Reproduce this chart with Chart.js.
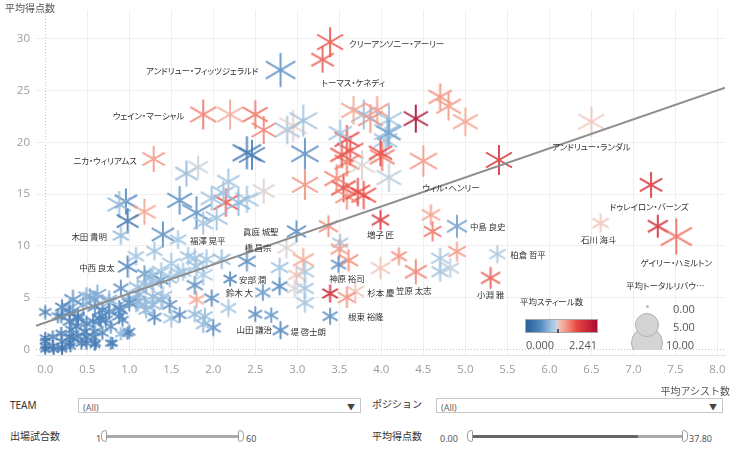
<!DOCTYPE html>
<html><head><meta charset="utf-8">
<script src="https://cdn.jsdelivr.net/npm/chart.js@4.4.1/dist/chart.umd.min.js"></script>
<style>
html,body{margin:0;padding:0;background:#fff}
body{width:736px;height:454px;overflow:hidden;position:relative;font-family:"Noto Sans CJK JP","Noto Sans",sans-serif;color:#333}
#c{position:absolute;left:0;top:0}
.abs{position:absolute;white-space:nowrap;line-height:1}
.lbl{position:absolute;white-space:nowrap;font-size:8.5px;line-height:10px;height:10px;color:#333;font-feature-settings:"palt";letter-spacing:-0.1px}
.sel{position:absolute;height:15px;border:1px solid #c8c8c8;background:#fff;box-sizing:border-box}
.sel span.t{position:absolute;left:4px;top:2px;font-size:9px;color:#666;font-family:"Noto Sans",sans-serif}
.sel span.a{position:absolute;right:5px;top:2px;font-size:8px;color:#444}
.ctl{font-size:10px;color:#333}
.hnd{position:absolute;width:6px;height:12px;border:1px solid #999;background:#fff;box-sizing:border-box}
</style></head>
<body>
<canvas id="c" width="736" height="396"></canvas>

<script>
// ---- data ----
const assistAvg = [
3.39,3.30,2.80,1.88,2.20,2.50,2.60,2.88,2.95,3.07,
2.40,2.46,3.09,1.29,1.68,1.82,2.18,3.09,2.60,2.40,
2.15,2.30,1.98,2.12,0.96,0.88,1.18,0.98,1.60,1.80,
1.40,1.88,2.04,0.90,1.58,1.30,1.08,0.98,2.99,2.87,
3.07,3.09,3.09,3.09,2.99,2.97,2.79,2.79,2.40,2.10,
2.20,2.59,2.18,2.50,2.69,2.80,2.00,1.88,1.98,1.80,
1.90,1.78,1.78,1.88,1.92,1.78,1.64,1.50,1.28,1.38,
1.20,1.40,1.48,1.50,1.60,1.28,1.30,1.10,1.18,1.18,
1.38,1.20,1.08,1.38,0.00,0.00,0.00,0.00,0.09,0.09,
0.20,0.19,0.31,0.33,0.43,0.47,0.59,0.59,0.20,0.29,
0.49,0.60,0.80,0.98,0.90,0.19,0.29,0.29,0.37,0.39,
0.49,0.45,0.53,0.59,0.59,0.68,0.72,0.78,0.76,0.88,
0.90,0.98,0.88,0.64,0.57,0.49,0.39,0.29,0.57,0.68,
0.78,0.33,0.49,0.76,1.00,1.12,1.25,1.28,0.29,0.20,
0.15,0.39,0.66,0.76,0.90,0.92,1.00,0.62,0.00,0.10,
0.20,0.30,1.10,1.28,1.48,1.58,1.80,1.70,3.59,3.63,
3.59,3.77,3.87,4.07,4.05,3.79,4.01,4.09,3.55,3.79,
3.59,3.53,3.47,3.51,3.95,4.09,4.09,3.99,4.41,4.70,
4.80,5.00,4.50,5.40,6.50,7.21,7.29,7.51,6.61,3.99,
4.59,4.61,4.90,5.38,5.30,4.21,3.99,4.41,4.70,4.70,
4.82,4.90,3.69,3.59,3.39,3.39,3.37,3.51,3.50,3.61,
3.49,3.72,3.67];
const pointsAvg = [
29.7,28.0,27.0,22.7,22.7,22.7,21.2,21.2,21.6,22.1,
19.0,18.8,18.9,18.4,17.0,17.6,16.2,15.9,15.3,14.5,
14.2,14.2,14.6,15.1,14.3,14.0,13.3,12.4,14.4,13.2,
11.1,12.2,12.7,11.0,10.6,9.5,9.0,8.0,11.4,9.8,
8.65,7.5,5.9,4.5,7.2,5.9,6.1,7.9,8.5,8.7,
6.8,5.5,4.0,3.4,3.3,1.85,2.1,2.4,4.95,4.8,
3.2,3.4,6.2,7.2,8.7,8.8,7.5,8.3,7.2,6.7,
6.2,5.1,4.3,3.0,3.35,4.3,3.1,4.6,4.3,7.3,
7.5,3.8,4.5,4.8,3.6,1.1,0.3,0.0,1.2,0.3,
0.75,1.55,1.9,1.1,0.6,1.7,0.45,1.7,0.2,0.6,
0.6,0.6,0.6,1.56,1.5,3.2,4.0,2.7,2.2,3.0,
2.5,4.3,5.1,4.1,4.8,3.8,2.85,2.2,4.5,4.0,
5.9,4.8,3.2,3.0,2.7,1.2,1.2,1.2,1.2,1.6,
0.6,4.8,5.1,4.8,4.5,5.3,7.0,5.1,3.5,4.1,
3.2,3.2,2.85,3.65,3.8,2.85,1.7,5.3,0.8,0.0,
0.0,0.3,6.0,6.5,6.8,7.4,8.0,9.0,20.3,19.2,
18.1,17.8,22.3,21.0,20.2,22.7,18.6,16.6,15.6,14.9,
14.8,18.8,16.5,20.9,23.1,22.2,20.9,19.0,22.3,24.4,
23.5,22.0,18.2,18.3,22.0,15.9,11.9,10.9,12.2,12.5,
13.0,11.4,11.9,9.2,6.9,9.0,7.85,7.5,8.8,7.5,
7.85,9.45,5.6,5.0,5.4,3.2,11.9,10.3,9.7,8.6,
8.2,15.2,23.1];
const stealAvg = [
1.55,1.50,0.50,1.40,1.20,1.40,1.35,0.80,1.02,0.78,
0.25,0.35,0.50,1.25,0.75,0.95,0.80,1.30,1.00,0.80,
1.55,0.75,0.80,0.80,0.45,0.75,1.20,0.30,0.50,0.50,
0.50,0.80,0.80,0.75,0.80,0.80,0.80,0.45,0.50,1.00,
1.20,0.80,0.80,0.80,1.05,0.98,0.45,0.80,0.50,0.75,
0.45,0.55,0.80,0.50,0.55,0.45,0.50,0.75,0.50,1.20,
0.75,0.75,0.50,0.80,0.80,0.80,0.80,0.80,0.80,0.50,
0.75,0.80,0.50,0.80,0.50,0.75,0.45,0.75,0.75,0.55,
0.80,0.75,0.75,0.75,0.35,0.35,0.30,0.20,0.35,0.30,
0.35,0.35,0.40,0.35,0.35,0.35,0.35,0.40,0.30,0.35,
0.35,0.35,0.35,0.45,0.70,0.40,0.65,0.40,0.40,0.40,
0.40,0.65,0.70,0.50,0.65,0.45,0.45,0.45,0.70,0.50,
0.50,0.70,0.45,0.45,0.45,0.35,0.35,0.35,0.40,0.40,
0.40,0.50,0.70,0.70,0.50,0.70,0.75,0.75,0.40,0.45,
0.40,0.40,0.45,0.45,0.50,0.45,0.45,0.65,0.30,0.30,
0.30,0.30,0.75,0.80,0.80,0.80,0.80,0.80,1.60,1.55,
1.40,1.00,1.30,0.78,0.80,0.75,1.40,0.90,1.60,1.55,
1.30,1.55,1.35,0.80,1.25,0.78,0.60,1.60,2.24,1.30,
1.25,1.20,1.25,1.75,1.05,1.75,1.85,1.45,1.05,1.75,
1.25,1.40,0.60,0.85,1.50,1.30,1.05,1.35,0.80,0.80,
0.90,1.25,1.05,1.30,1.90,0.50,1.30,0.80,1.25,1.30,
0.50,1.60,1.20];
const reboundAvg = [
9,6.5,11.9,9,9,8,7.7,8,10.4,10.4,
11,9,10,6.5,6.5,5,6.5,9,6,7,
8,7,6,6,6.5,7,6.5,6,8,11,
6.5,5,6,3,3,3,3,4.5,4.5,4,
5.5,4,3.6,3.6,3,3,2.8,3.6,3.6,3.6,
1.8,2.5,2.8,2,2,2.8,2.5,2.5,2.5,2.5,
2.5,2.2,3,4,3.6,3.6,3,4,3,2.5,
3,4,2.5,3,2,3,2,3.6,3,2.5,
3,2.5,3,3,1.5,1,1,0.8,1.2,1.2,
1.5,1.2,1.5,1.5,1.2,1.5,1,1.5,1,1.2,
1.2,1,1,1.2,1.2,1.5,3,2,2,2,
2,2.5,2.5,2.5,3,2.5,2,1.5,3,2,
2.5,2.5,2,2,2,1.5,1.5,1.2,1.5,1.5,
1.2,3.6,3,3,2.5,2.5,3,3,2,2,
1.5,2,2,2,2,1.5,1.5,3.6,0.8,1,
1,1,3.6,3,2.5,3,3.6,3,8,9,
8,9,8,9,7,9,8,8,8,8,
7,7,8,7,8,9,7,7,7.7,7,
8,8,10,9,9,6.5,5,13.4,3,3.6,
4,3.6,5,3,4.5,2.8,4.5,6,4,3.6,
3.6,3.6,3.6,4,2.8,2.5,4.5,2.8,3.6,4.5,
2.5,8,8];
const trendX = [-0.11, 8.09];
const trendY = [2.27, 25.3];
const STEAL_MAX = 2.241;
const labelNames = ["クリーアンソニー・アーリー","トーマス・ケネディ","アンドリュー・フィッツジェラルド","ウェイン・マーシャル","ニカ・ウィリアムス","アンドリュー・ランダル","ウィル・ヘンリー","ドゥレイロン・バーンズ","石川 海斗","ゲイリー・ハミルトン","中島 良史","柏倉 哲平","小淵 雅","増子 匠","笠原 太志","杉本 慶","根東 裕隆","神原 裕司","堤 啓士朗","山田 謙治","鈴木 大","安部 潤","橋 昌宗","眞庭 城聖","福澤 晃平","木田 貴明","中西 良太"];
const labelX = [3.39,3.30,2.80,1.88,1.29,6.50,4.50,7.21,6.61,7.51,4.90,5.38,5.30,3.99,4.41,3.69,3.39,3.59,2.80,2.50,2.59,2.20,2.87,2.99,1.58,0.90,0.98];
const labelY = [29.7,28.0,27.0,22.7,18.4,22.0,18.2,15.9,12.2,10.9,11.9,9.2,6.9,12.5,7.5,5.6,3.2,8.5,1.85,3.4,5.5,6.8,9.8,11.4,10.6,11.0,8.0];
// label placement (style): align, dx, dy in px
const labelPlace = [['l',19,1],['l',-1,22],['r',-22,0],['r',-19,1],['r',-17,1],['c',0,24],['l',-1,26],['c',-2,21],['c',-2,16],['c',0,25],['l',13,0],['l',13,0],['c',0,16],['c',0,14],['c',-2,18],['l',12,1],['l',18,0],['c',0,17],['l',10,1],['c',-1,15],['r',-10,0],['l',9,0],['r',-15,-1],['r',-18,0],['l',12,0],['r',-14,0],['r',-13,0]];

// ---- colour scale (steals) ----
const colorStops = [[0,[40,96,155]],[0.2,[82,135,190]],[0.36,[160,196,225]],[0.44,[214,212,214]],[0.47,[240,196,182]],[0.55,[246,158,138]],[0.72,[232,70,64]],[1,[170,12,50]]];
function stealColor(v, a){
  const t = Math.max(0, Math.min(1, v / STEAL_MAX));
  for (let i = 1; i < colorStops.length; i++){
    if (t <= colorStops[i][0]){
      const [t0,c0] = colorStops[i-1], [t1,c1] = colorStops[i];
      const f = (t - t0) / (t1 - t0);
      const c = c0.map((v0,k)=>Math.round(v0 + (c1[k]-v0)*f));
      return `rgba(${c[0]},${c[1]},${c[2]},${a})`;
    }
  }
  return `rgba(170,12,50,${a})`;
}
function sizeR(reb){ return 1.5 + 4.5*Math.sqrt(reb); }

const cache = {};
function asterisk(r, col){
  const key = r.toFixed(2) + col;
  if (cache[key]) return cache[key];
  const s = Math.ceil(2*r + 4);
  const c = document.createElement('canvas');
  c.width = s; c.height = s;
  const g = c.getContext('2d');
  g.strokeStyle = col; g.lineWidth = 2; g.lineCap = 'butt';
  const cx = s/2, cy = s/2;
  g.beginPath();
  [90,30,150].forEach(d=>{
    const a = d*Math.PI/180, dx = Math.cos(a)*r, dy = Math.sin(a)*r;
    g.moveTo(cx-dx, cy-dy); g.lineTo(cx+dx, cy+dy);
  });
  g.stroke();
  cache[key] = c;
  return c;
}

const n = Math.min(assistAvg.length, pointsAvg.length, stealAvg.length, reboundAvg.length);
const scatterData = [];
for (let i = 0; i < n; i++) scatterData.push({x: assistAvg[i], y: pointsAvg[i]});

const tickFont = {family: "'Open Sans', sans-serif", size: 11.5};
const chart = new Chart(document.getElementById('c'), {
  data: {
    datasets: [
      { type: 'line', data: trendX.map((x,i)=>({x, y: trendY[i]})), borderColor: '#8e8e8e', borderWidth: 2, pointRadius: 0, fill: false, order: 0 },
      { type: 'scatter', data: scatterData, order: 1,
        pointStyle: ctx => asterisk(sizeR(reboundAvg[ctx.dataIndex]), stealColor(stealAvg[ctx.dataIndex], 0.88)),
        pointRadius: ctx => sizeR(reboundAvg[ctx.dataIndex]) }
    ]
  },
  options: {
    responsive: false, animation: false, devicePixelRatio: 1, events: [],
    layout: {autoPadding: false, padding: {top: 10, right: 11, left: 0, bottom: 0}},
    plugins: {legend: {display: false}, tooltip: {enabled: false}},
    scales: {
      x: {
        type: 'linear', min: -0.11, max: 8.09,
        afterFit: s => { s.height = 41; s.paddingLeft = 0; s.paddingRight = 0; },
        grid: {drawTicks: false, lineWidth: 1, color: c => (c.tick && c.tick.value === 0) ? '#c2c2c2' : '#efefef'},
        border: {display: true, color: '#e4e4e4', dash: c => (c.tick && c.tick.value === 0) ? [1,2] : []},
        ticks: {stepSize: 0.5, includeBounds: false, padding: 8, color: '#9c9c9c', font: tickFont, maxRotation: 0, callback: v => Number(v).toFixed(1)}
      },
      y: {
        type: 'linear', min: -0.55, max: 32.8,
        afterFit: s => { s.width = 36; s.paddingTop = 0; s.paddingBottom = 0; },
        grid: {drawTicks: false, lineWidth: 1, color: c => (c.tick && c.tick.value === 0) ? '#c2c2c2' : '#efefef'},
        border: {display: false, dash: c => (c.tick && c.tick.value === 0) ? [1,2] : []},
        ticks: {stepSize: 5, includeBounds: false, padding: 6, color: '#9c9c9c', font: tickFont, callback: v => String(v)}
      }
    }
  }
});

// ---- point labels, positioned through the chart's scales ----
const xs = chart.scales.x, ys = chart.scales.y;
labelNames.forEach((name, i) => {
  const px = xs.getPixelForValue(labelX[i]), py = ys.getPixelForValue(labelY[i]);
  const [al, dx, dy] = labelPlace[i];
  const d = document.createElement('div');
  d.className = 'lbl'; d.textContent = name;
  d.style.left = (px + dx) + 'px'; d.style.top = (py + dy - 5) + 'px';
  d.style.transform = al === 'r' ? 'translateX(-100%)' : al === 'c' ? 'translateX(-50%)' : 'none';
  document.body.appendChild(d);
});
</script>

<!-- axis titles -->
<div class="abs" style="left:5px;top:3px;font-size:10px;color:#555">平均得点数</div>
<div class="abs" style="right:6px;top:386px;font-size:10px;color:#555">平均アシスト数</div>

<!-- colour legend -->
<div class="abs" style="left:520px;top:297px;font-size:8.5px;color:#333;font-feature-settings:'palt'">平均スティール数</div>
<div class="abs" style="left:525px;top:319px;width:73px;height:14px;box-sizing:border-box;border:1px solid #a8a8a8;background:linear-gradient(to right,rgb(40,96,155) 0%,rgb(82,135,190) 20%,rgb(160,196,225) 36%,rgb(200,215,228) 44%,rgb(240,196,182) 46%,rgb(246,158,138) 55%,rgb(232,70,64) 72%,rgb(170,12,50) 100%)"></div>
<div class="abs" style="left:557px;top:329px;width:2px;height:4px;background:#555"></div>
<div class="abs" style="left:526px;top:337px;font:11px 'Open Sans',sans-serif;color:#555">0.000</div>
<div class="abs" style="left:569px;top:337px;font:11px 'Open Sans',sans-serif;color:#555">2.241</div>

<!-- size legend -->
<div class="abs" style="left:626px;top:281px;font-size:8.5px;color:#333;font-feature-settings:'palt'">平均トータルリバウ…</div>
<div class="abs" style="left:600px;top:295px;width:110px;height:55px;overflow:hidden">
  <div class="abs" style="left:31px;top:32px;width:32px;height:32px;border-radius:50%;background:#d4d4d4;border:1px solid #b0b0b0;box-sizing:border-box"></div>
  <div class="abs" style="left:35px;top:18px;width:24px;height:24px;border-radius:50%;background:#d4d4d4;border:1px solid #b0b0b0;box-sizing:border-box"></div>
  <div class="abs" style="left:46px;top:10px;width:3px;height:3px;border-radius:50%;background:#bbb"></div>
  <div class="abs" style="left:73px;top:6px;font:11px 'Open Sans',sans-serif;color:#555">0.00</div>
  <div class="abs" style="left:73px;top:24px;font:11px 'Open Sans',sans-serif;color:#555">5.00</div>
  <div class="abs" style="left:66px;top:42px;font:11px 'Open Sans',sans-serif;color:#555">10.00</div>
</div>

<!-- filter controls -->
<div class="abs ctl" style="left:10px;top:400px;font-family:'Noto Sans',sans-serif">TEAM</div>
<div class="sel" style="left:78px;top:398px;width:283px"><span class="t">(All)</span><span class="a">▼</span></div>
<div class="abs ctl" style="left:372px;top:399px">ポジション</div>
<div class="sel" style="left:436px;top:398px;width:287px"><span class="t">(All)</span><span class="a">▼</span></div>

<div class="abs ctl" style="left:10px;top:431px">出場試合数</div>
<div class="abs" style="left:96px;top:432px;font:9px 'Noto Sans',sans-serif;color:#555">1</div>
<div class="abs" style="left:105px;top:435px;width:136px;height:3px;background:#aaa"></div>
<div class="hnd" style="left:101px;top:430px;border-radius:5px 2px 2px 5px"></div>
<div class="hnd" style="left:238px;top:430px;border-radius:2px 5px 5px 2px"></div>
<div class="abs" style="left:246px;top:432px;font:9px 'Noto Sans',sans-serif;color:#555">60</div>

<div class="abs ctl" style="left:372px;top:431px">平均得点数</div>
<div class="abs" style="left:440px;top:432px;font:9px 'Noto Sans',sans-serif;color:#555">0.00</div>
<div class="abs" style="left:472px;top:435px;width:166px;height:3px;background:#666"></div>
<div class="abs" style="left:638px;top:435px;width:46px;height:3px;background:#aaa"></div>
<div class="hnd" style="left:467px;top:430px;border-radius:5px 2px 2px 5px"></div>
<div class="hnd" style="left:682px;top:430px;border-radius:2px 5px 5px 2px"></div>
<div class="abs" style="left:689px;top:432px;font:9px 'Noto Sans',sans-serif;color:#555">37.80</div>
</body></html>
